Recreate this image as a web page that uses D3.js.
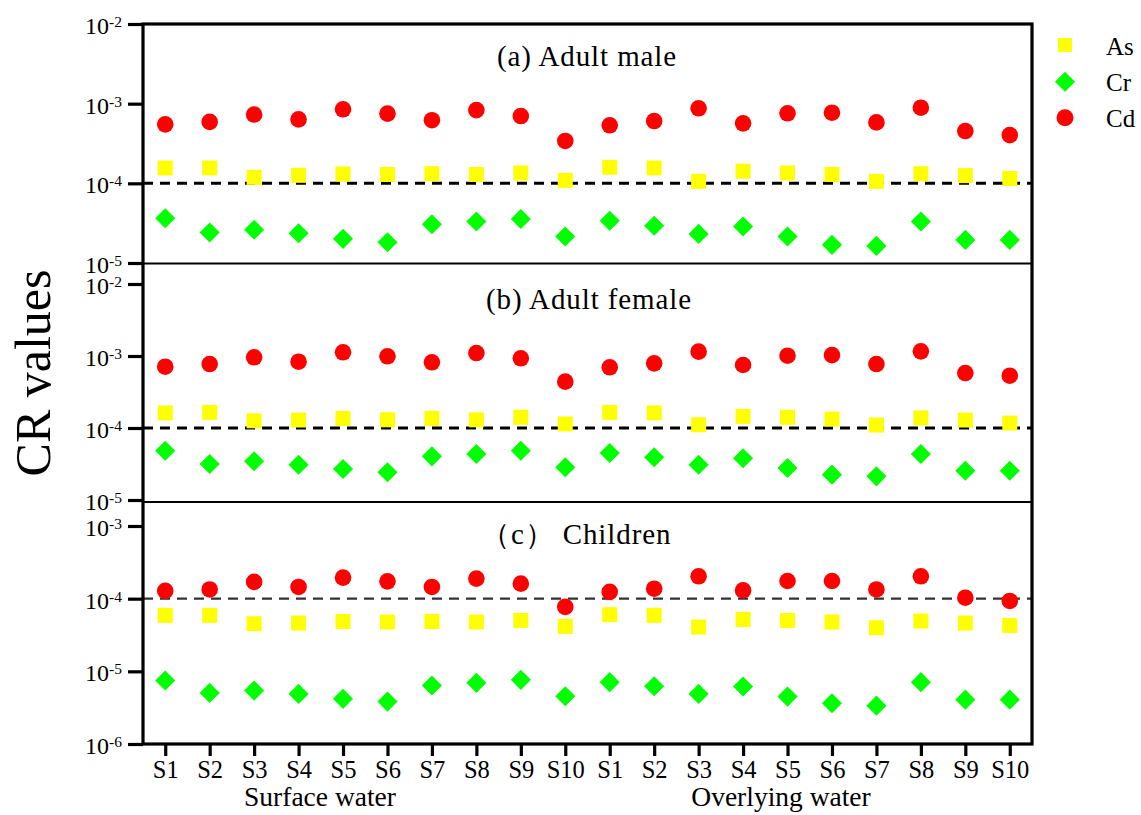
<!DOCTYPE html>
<html>
<head>
<meta charset="utf-8">
<script src="https://cdn.jsdelivr.net/npm/d3@7"></script>
<style>
  html, body { margin: 0; padding: 0; background: #ffffff; }
  svg { display: block; }
  text { font-family: "Liberation Serif", "Times New Roman", "DejaVu Serif", serif; fill: #000; }
</style>
</head>
<body>
<svg id="chart" width="1141" height="815"></svg>
<script>
// ---------------- DATA ----------------
const sites = ["S1","S2","S3","S4","S5","S6","S7","S8","S9","S10"];
const groups = ["Surface water", "Overlying water"];
const seriesNames = ["As", "Cr", "Cd"];
const panelTitles = ["(a) Adult male", "(b) Adult female", "\uFF08c\uFF09 Children"];
const yTicksAdult = [1e-2, 1e-3, 1e-4, 1e-5];
const yTicksChild = [1e-3, 1e-4, 1e-5, 1e-6];
const riskThreshold = 1e-4;

// (a) Adult male — 10 surface water sites then 10 overlying water sites
const asMale = [1.56e-4,1.56e-4,1.19e-4,1.26e-4,1.31e-4,1.29e-4,1.32e-4,1.29e-4,1.35e-4,1.09e-4,
                1.59e-4,1.56e-4,1.06e-4,1.42e-4,1.35e-4,1.29e-4,1.06e-4,1.32e-4,1.25e-4,1.15e-4];
const crMale = [3.65e-5,2.41e-5,2.61e-5,2.36e-5,2.01e-5,1.82e-5,3.07e-5,3.32e-5,3.57e-5,2.15e-5,
                3.39e-5,2.93e-5,2.32e-5,2.87e-5,2.15e-5,1.69e-5,1.64e-5,3.32e-5,1.95e-5,1.95e-5];
const cdMale = [5.5e-4,5.9e-4,7.3e-4,6.35e-4,8.5e-4,7.5e-4,6.2e-4,8.3e-4,7.0e-4,3.4e-4,
                5.35e-4,6.05e-4,8.75e-4,5.66e-4,7.57e-4,7.7e-4,5.82e-4,8.9e-4,4.53e-4,4.03e-4];

// (b) Adult female
const asFemale = [1.62e-4,1.65e-4,1.26e-4,1.29e-4,1.36e-4,1.30e-4,1.36e-4,1.30e-4,1.41e-4,1.14e-4,
                  1.65e-4,1.62e-4,1.11e-4,1.45e-4,1.41e-4,1.33e-4,1.10e-4,1.38e-4,1.29e-4,1.17e-4];
const crFemale = [4.84e-5,3.16e-5,3.45e-5,3.09e-5,2.70e-5,2.43e-5,4.04e-5,4.35e-5,4.84e-5,2.85e-5,
                  4.5e-5,3.92e-5,3.09e-5,3.8e-5,2.78e-5,2.25e-5,2.13e-5,4.35e-5,2.55e-5,2.55e-5];
const cdFemale = [7.1e-4,7.74e-4,9.6e-4,8.34e-4,1.125e-3,9.9e-4,8.17e-4,1.10e-3,9.3e-4,4.4e-4,
                  6.97e-4,7.9e-4,1.15e-3,7.5e-4,1.01e-3,1.03e-3,7.74e-4,1.16e-3,5.8e-4,5.33e-4];

// (c) Children
const asChild = [5.89e-5,5.89e-5,4.52e-5,4.62e-5,4.86e-5,4.77e-5,4.86e-5,4.77e-5,5.02e-5,4.15e-5,
                 6.02e-5,5.89e-5,4.07e-5,5.18e-5,5.02e-5,4.77e-5,3.98e-5,4.92e-5,4.62e-5,4.28e-5];
const crChild = [7.46e-6,5.05e-6,5.43e-6,4.89e-6,4.18e-6,3.83e-6,6.37e-6,6.94e-6,7.63e-6,4.55e-6,
                 7.10e-6,6.25e-6,4.89e-6,6.17e-6,4.49e-6,3.64e-6,3.37e-6,7.10e-6,4.08e-6,4.08e-6];
const cdChild = [1.28e-4,1.34e-4,1.70e-4,1.45e-4,1.95e-4,1.73e-4,1.45e-4,1.89e-4,1.61e-4,7.7e-5,
                 1.24e-4,1.37e-4,2.03e-4,1.30e-4,1.75e-4,1.75e-4,1.34e-4,2.03e-4,1.03e-4,9.3e-5];

// ---------------- LAYOUT ----------------
const svg = d3.select("#chart");
const X0 = 143, X1 = 1032, YTOP = 24, YBOT = 744;
const colors = { As: "#ffff00", Cr: "#00ff00", Cd: "#ff0000" };

const categories = groups.flatMap((g, gi) => sites.map(s => gi + "|" + s));
const x = d3.scalePoint().domain(categories).range([X0, X1]).padding(0.5);

const panels = [
  { title: panelTitles[0], as: asMale, cr: crMale, cd: cdMale, domain: [1e-5, 1e-2], range: [263, 24],
    ticks: yTicksAdult, titleX: 497, titleY: 66, dash: { w: 3, c: "#000" } },
  { title: panelTitles[1], as: asFemale, cr: crFemale, cd: cdFemale, domain: [1e-5, 1e-2], range: [500, 284],
    ticks: yTicksAdult, titleX: 486, titleY: 309, dash: { w: 3, c: "#000" } },
  { title: panelTitles[2], as: asChild, cr: crChild, cd: cdChild, domain: [1e-6, 1e-3], range: [744, 526],
    ticks: yTicksChild, titleX: 481, titleY: 544, dash: { w: 2.2, c: "#333" } }
];

const expOf = v => Math.round(Math.log10(v));

const sqSym = d3.symbol().type(d3.symbolSquare).size(15 * 15);
const diaSym = d3.symbol().type(d3.symbolSquare).size(14.2 * 14.2);
const cirSym = d3.symbol().type(d3.symbolCircle).size(Math.PI * 8.3 * 8.3);

panels.forEach(p => {
  const y = d3.scaleLog().domain(p.domain).range(p.range);
  const g = svg.append("g");

  // threshold dashed line
  g.append("line")
    .attr("x1", X0).attr("x2", X1)
    .attr("y1", y(riskThreshold)).attr("y2", y(riskThreshold))
    .attr("stroke", p.dash.c).attr("stroke-width", p.dash.w)
    .attr("stroke-dasharray", "10,7");

  // y axis
  const axis = d3.axisLeft(y).tickValues(p.ticks).tickSize(15).tickPadding(6).tickFormat(() => "");
  const ax = g.append("g").attr("transform", `translate(${X0},0)`).call(axis);
  ax.select(".domain").remove();
  ax.selectAll(".tick line").attr("stroke", "#000").attr("stroke-width", 3.2);
  ax.selectAll(".tick text")
    .attr("font-size", 24).attr("dy", "0.4em").attr("text-anchor", "end")
    .each(function(d) {
      const t = d3.select(this);
      t.append("tspan").text("10");
      t.append("tspan").attr("dy", -7).attr("font-size", 15.5).text(String(expOf(d)));
    });

  // title
  g.append("text").attr("x", p.titleX).attr("y", p.titleY)
    .attr("font-size", 29).attr("letter-spacing", "0.9px").text(p.title);

  // points: As squares
  g.selectAll(".as").data(p.as).join("path")
    .attr("d", sqSym)
    .attr("transform", (d, i) => `translate(${x(categories[i])},${y(d)})`)
    .attr("fill", colors.As);
  // Cr diamonds
  g.selectAll(".cr").data(p.cr).join("path")
    .attr("d", diaSym)
    .attr("transform", (d, i) => `translate(${x(categories[i])},${y(d)}) rotate(45)`)
    .attr("fill", colors.Cr);
  // Cd circles
  g.selectAll(".cd").data(p.cd).join("path")
    .attr("d", cirSym)
    .attr("transform", (d, i) => `translate(${x(categories[i])},${y(d)})`)
    .attr("fill", colors.Cd);
});

// panel separators
[263.5, 502].forEach(yy => {
  svg.append("line").attr("x1", X0).attr("x2", X1).attr("y1", yy).attr("y2", yy)
    .attr("stroke", "#000").attr("stroke-width", 2);
});

// frame
svg.append("rect").attr("x", X0).attr("y", YTOP).attr("width", X1 - X0).attr("height", YBOT - YTOP)
  .attr("fill", "none").attr("stroke", "#000").attr("stroke-width", 3.2);

// x axis
const xAxis = d3.axisBottom(x).tickSize(12).tickPadding(5).tickFormat(d => d.split("|")[1]);
const xg = svg.append("g").attr("transform", `translate(0,${YBOT})`).call(xAxis);
xg.select(".domain").remove();
xg.selectAll(".tick line").attr("stroke", "#000").attr("stroke-width", 3.2);
xg.selectAll(".tick text").attr("font-size", 24.5).attr("fill", "#000");

// group labels
const groupCenters = [320, 781];
groups.forEach((gname, i) => {
  svg.append("text").attr("x", groupCenters[i]).attr("y", 806)
    .attr("text-anchor", "middle").attr("font-size", 27.5).text(gname);
});

// y title
svg.append("text")
  .attr("transform", "translate(50,373) rotate(-90)")
  .attr("text-anchor", "middle").attr("font-size", 50).text("CR values");

// legend
const legendY = [45, 81.7, 117.7];
seriesNames.forEach((s, i) => {
  svg.append("path")
    .attr("d", i === 0 ? d3.symbol().type(d3.symbolSquare).size(14 * 14)() :
               i === 1 ? d3.symbol().type(d3.symbolSquare).size(14.2 * 14.2)() :
                         d3.symbol().type(d3.symbolCircle).size(Math.PI * 8.5 * 8.5)())
    .attr("transform", `translate(1065,${legendY[i]})` + (i === 1 ? " rotate(45)" : ""))
    .attr("fill", colors[s]);
  svg.append("text").attr("x", 1106).attr("y", legendY[i] + 9.5)
    .attr("font-size", 25).text(s);
});
</script>
</body>
</html>
